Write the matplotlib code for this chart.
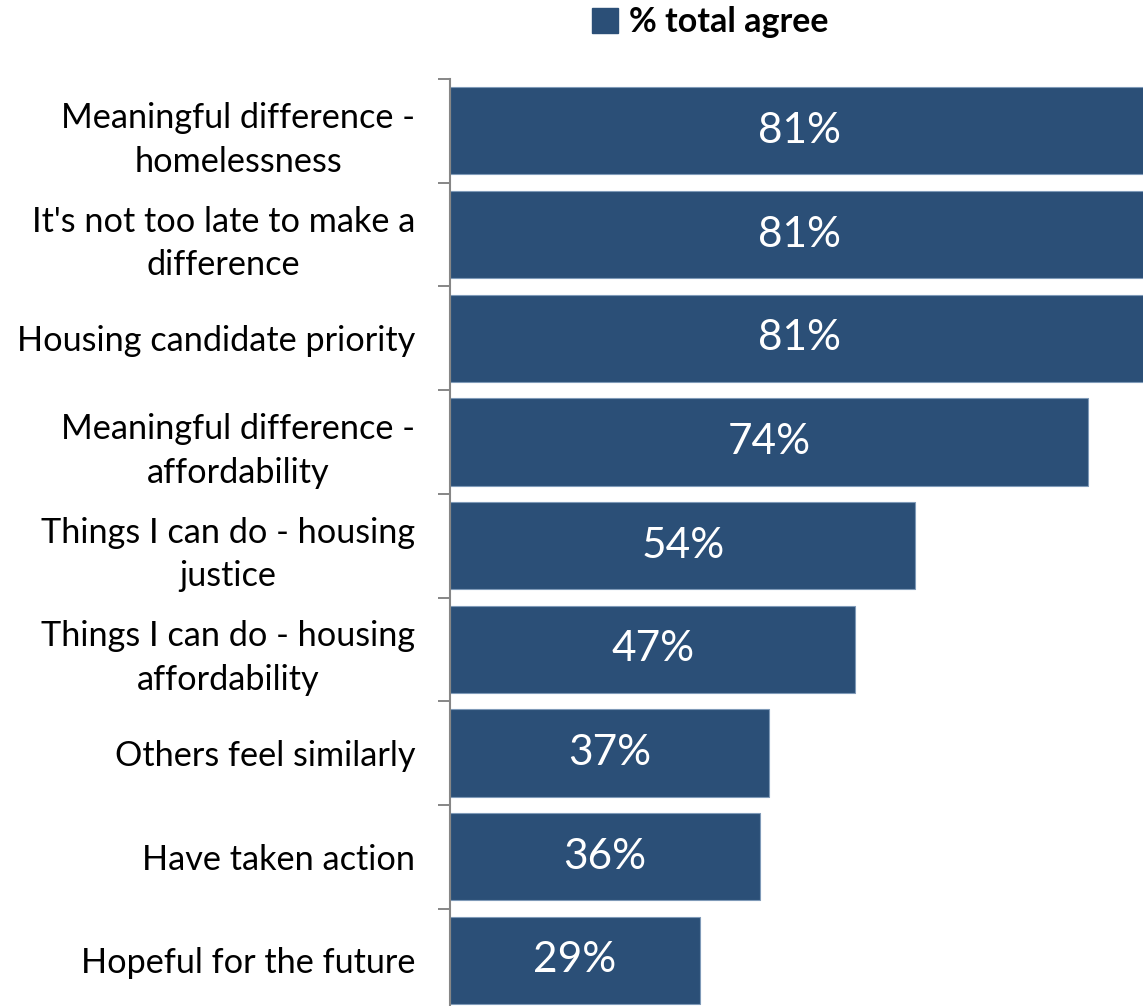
import matplotlib
matplotlib.use("Agg")
import matplotlib.pyplot as plt
from matplotlib.patches import Patch
import numpy as np

categories = [
    "Meaningful difference -\nhomelessness",
    "It's not too late to make a\ndifference",
    "Housing candidate priority",
    "Meaningful difference -\naffordability",
    "Things I can do - housing\njustice",
    "Things I can do - housing\naffordability",
    "Others feel similarly",
    "Have taken action",
    "Hopeful for the future",
]
values = [81, 81, 81, 74, 54, 47, 37, 36, 29]
series_name = "% total agree"

BAR = "#2b4f77"
EDGE = "#7f9ab8"
FONT = "Lato"

W, H, DPI = 1143, 1006, 100
fig = plt.figure(figsize=(W / DPI, H / DPI), dpi=DPI)

px_per_unit = 8.62
left_px, top_px, slot_px = 450, 79, 103.7
n = len(categories)
bottom_px = top_px + n * slot_px
ax = fig.add_axes([left_px / W, 1 - bottom_px / H,
                   (W - left_px) / W, (bottom_px - top_px) / H])

y = np.arange(n)
ax.barh(y, values, height=0.84, color=BAR, edgecolor=EDGE, linewidth=0.8,
        clip_on=True)
ax.set_xlim(0, (W - left_px) / px_per_unit)
ax.set_ylim(n - 0.5, -0.5)

for yi, v in zip(y, values):
    ax.text(v / 2, yi, f"{v}%", ha="center", va="center", color="white",
            fontsize=30.5, family=FONT)

ax.set_yticks(y)
ax.set_yticklabels(categories, fontsize=24.7, family=FONT,
                   multialignment="center", linespacing=1.45)
ax.set_yticks(np.arange(-0.5, n, 1), minor=True)
ax.tick_params(axis="y", which="major", length=0, pad=25)
ax.tick_params(axis="y", which="minor", length=8.6, width=1.4,
               color="#868686", direction="out")
ax.set_xticks([])
for s in ["top", "right", "bottom"]:
    ax.spines[s].set_visible(False)
ax.spines["left"].set_color("#868686")
ax.spines["left"].set_linewidth(1.5)

handle = Patch(facecolor=BAR, edgecolor=BAR)
fig.legend([handle], [series_name], loc="center left",
           bbox_to_anchor=(592 / W, 1 - 22 / H), frameon=False,
           borderpad=0, borderaxespad=0, handlelength=0.75, handleheight=0.75,
           handletextpad=0.35,
           prop={"family": FONT, "weight": "bold", "size": 24.5})

fig.savefig("out.png", dpi=DPI)
